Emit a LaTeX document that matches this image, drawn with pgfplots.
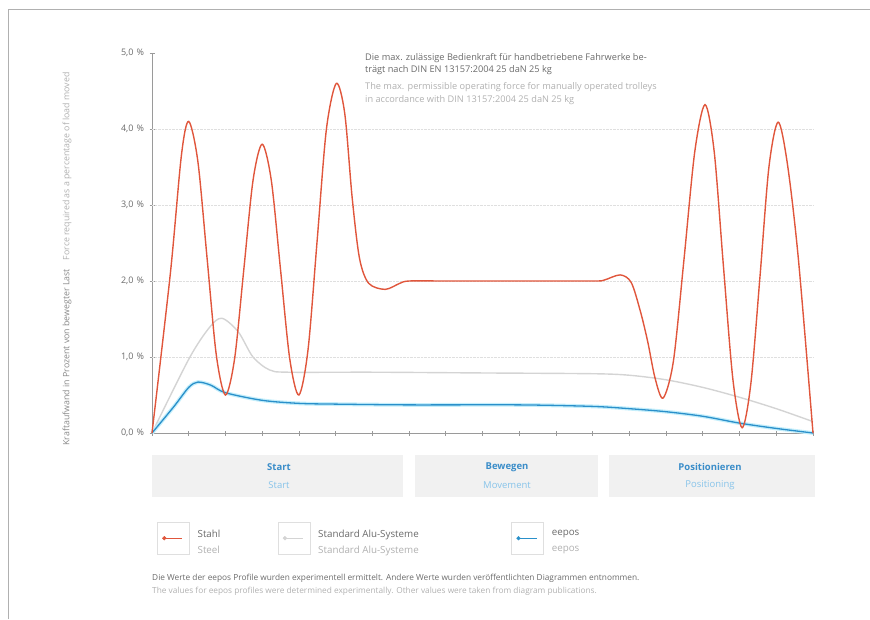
\documentclass[border=0pt]{standalone}
\usepackage{pgfplots}
\pgfplotsset{compat=1.18}
\usepackage{fontspec}
\setmainfont{Open Sans}

\definecolor{stahl}{HTML}{E0563C}
\definecolor{alu}{HTML}{D4D4D4}
\definecolor{eepos}{HTML}{2A90CA}
\definecolor{eeposglow}{HTML}{C4EEFB}
\definecolor{txtdark}{HTML}{6A6A6A}
\definecolor{txtlight}{HTML}{B0B0B0}
\definecolor{phase}{HTML}{F1F1F1}
\definecolor{phasedark}{HTML}{3A8DC9}
\definecolor{phaselight}{HTML}{88C4EA}
\definecolor{axisgray}{HTML}{9A9A9A}

\begin{document}
\begin{tikzpicture}[x=1pt,y=1pt]
\path[use as bounding box] (0,0) rectangle (870,619);
\draw[txtlight, line width=1pt] (8,0) -- (8,609) -- (870,609);

% phase boxes below the axis
\fill[phase] (152,122) rectangle (403,164);
\fill[phase] (415,122) rectangle (598,164);
\fill[phase] (609,122) rectangle (815,164);
\node[font=\fontsize{9.5}{11}\selectfont\bfseries, text=phasedark] at (279,152) {Start};
\node[font=\fontsize{9.5}{11}\selectfont, text=phaselight] at (279,134) {Start};
\node[font=\fontsize{9.5}{11}\selectfont\bfseries, text=phasedark] at (507,152) {Bewegen};
\node[font=\fontsize{9.5}{11}\selectfont, text=phaselight] at (507,134) {Movement};
\node[font=\fontsize{9.5}{11}\selectfont\bfseries, text=phasedark] at (710,152) {Positionieren};
\node[font=\fontsize{9.5}{11}\selectfont, text=phaselight] at (710,134) {Positioning};

% y label
\node[rotate=90, font=\fontsize{8.8}{10}\selectfont] at (67,360)
  {\textcolor{txtdark!80}{Kraftaufwand in Prozent von bewegter Last}\quad
   \textcolor{txtlight}{Force required as a percentage of load moved}};

% note at the top
\node[anchor=north west, align=left, inner sep=0pt, font=\fontsize{9.2}{12.3}\selectfont] at (365,566)
  {\textcolor{txtdark}{Die max. zulässige Bedienkraft für handbetriebene Fahrwerke be-}\\
   \textcolor{txtdark}{trägt nach DIN EN 13157:2004 25 daN 25 kg}\\[5pt]
   \textcolor{txtlight}{The max. permissible operating force for manually operated trolleys}\\
   \textcolor{txtlight}{in accordance with DIN 13157:2004 25 daN 25 kg}};

% footnote
\node[anchor=north west, align=left, inner sep=0pt, font=\fontsize{8.3}{13}\selectfont] at (152,45)
  {\textcolor{txtdark}{Die Werte der eepos Profile wurden experimentell ermittelt. Andere Werte wurden veröffentlichten Diagrammen entnommen.}\\
   \textcolor{txtlight}{The values for eepos profiles were determined experimentally. Other values were taken from diagram publications.}};

\begin{axis}[
  at={(152pt,186pt)}, anchor=south west,
  scale only axis, width=661pt, height=380pt,
  xmin=0, xmax=18, ymin=0, ymax=5,
  axis x line=bottom, axis y line=left,
  axis line style={-, draw=axisgray, line width=0.9pt},
  xtick={0,...,18}, xticklabels={},
  ytick={0,...,5},
  tick align=center, major tick length=5pt,
  tick style={axisgray, line width=0.7pt},
  yticklabel style={font=\fontsize{9}{10}\selectfont, text=txtdark, xshift=-2pt},
  yticklabel={\pgfmathprintnumber[use comma,fixed,fixed zerofill,precision=1,assume math mode=true]{\tick}\hspace{3pt}\%},
  extra y ticks={1,2,3,4}, extra y tick labels={},
  extra y tick style={grid=major, major tick length=0pt},
  grid style={densely dotted, gray!25, line width=0.6pt},
  clip=false,
  legend columns=3,
  legend style={at={(0.0076,-0.234)}, anchor=north west, draw=none, fill=none,
    inner sep=0pt, outer sep=0pt,
    font=\fontsize{9.8}{16}\selectfont, text=txtdark,
    nodes={inner sep=0pt, align=left},
    /tikz/every odd column/.style={column sep=8pt},
    /tikz/every even column/.style={column sep=0pt}},
  legend cell align=left,
  legend image code/.code={
    \draw[gray!25, line width=0.6pt, fill=white] (0pt,-16pt) rectangle (32pt,16pt);
    \draw[#1, line width=1.2pt] (7pt,0pt) -- (25pt,0pt);
    \fill[#1] (7pt,0pt) circle (1.9pt);
  },
]

% Standard Alu-Systeme
\addplot[alu, line width=1.4pt, smooth, forget plot] coordinates {
  (0,0) (1,0.97) (1.55,1.38) (1.9,1.51) (2.35,1.33) (2.75,1.0) (3.2,0.83)
  (3.7,0.8) (6,0.8) (9,0.79) (12,0.78) (13,0.76) (14,0.7) (15,0.6)
  (16,0.47) (17,0.32) (18,0.15)
};

% eepos
\addplot[eepos, line width=1.3pt, smooth, forget plot,
  preaction={draw, eeposglow, line width=3.8pt}] coordinates {
  (0,0) (0.6,0.35) (1.0,0.6) (1.25,0.67) (1.6,0.63) (2,0.53) (3,0.43)
  (4,0.39) (5,0.38) (7,0.37) (10,0.37) (12,0.35) (13,0.32) (14,0.28)
  (15,0.22) (16,0.13) (17,0.06) (18,0)
};

% Stahl
\addplot[stahl, line width=1.4pt, smooth, forget plot] coordinates {
  (0,0) (0.5,2.1) (0.8,3.65) (1,4.1)
  (1.25,3.57) (1.5,2.3) (1.75,1.03) (2,0.5)
  (2.25,0.98) (2.5,2.15) (2.75,3.32) (3,3.8)
  (3.25,3.32) (3.5,2.15) (3.75,0.98) (4,0.5)
  (4.25,1.1) (4.5,2.55) (4.75,4.0) (5.02,4.6)
  (5.25,4.2) (5.45,3.1) (5.65,2.3) (5.9,1.97) (6.35,1.89) (6.75,1.97) (7,2.0)
  (8,2.0) (10,2.0) (12,2.0) (12.3,2.01) (12.75,2.08)
  (13.05,1.98) (13.3,1.6) (13.5,1.2) (13.7,0.72) (13.92,0.46)
  (14.2,0.95) (14.49,2.3) (14.78,3.7) (15.06,4.32)
  (15.31,3.7) (15.56,2.2) (15.82,0.7) (16.07,0.07)
  (16.31,0.66) (16.56,2.08) (16.8,3.5) (17.05,4.09)
  (17.3,3.55) (17.6,2.3) (18,0)
};

\addlegendimage{stahl}
\addlegendentry{\parbox{80pt}{Stahl\\\textcolor{txtlight}{Steel}}}
\addlegendimage{alu}
\addlegendentry{\parbox{193pt}{Standard Alu-Systeme\\\textcolor{txtlight}{Standard Alu-Systeme}}}
\addlegendimage{eepos}
\addlegendentry{\parbox{60pt}{eepos\\\textcolor{txtlight}{eepos}}}
\end{axis}
\end{tikzpicture}
\end{document}
